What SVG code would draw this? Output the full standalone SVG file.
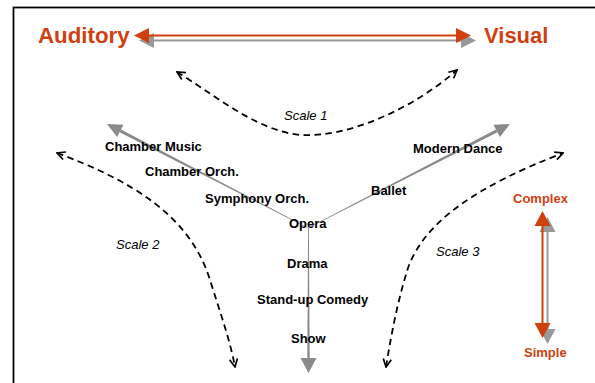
<svg xmlns="http://www.w3.org/2000/svg" width="595" height="383" viewBox="0 0 595 383">
<style>
.lbl{font-family:"Liberation Sans",Arial,sans-serif;font-weight:bold;font-size:13px;fill:#000}
.red{font-family:"Liberation Sans",Arial,sans-serif;font-weight:bold;fill:#D0400F}
.sc{font-family:"Liberation Sans",Arial,sans-serif;font-style:italic;font-size:13px;fill:#000}
.dash{fill:none;stroke:#000;stroke-width:1.8;stroke-dasharray:6.5 4.5;marker-start:url(#open);marker-end:url(#open)}
.gr{fill:#8a8a8a}
</style>
<defs>
<marker id="open" viewBox="0 0 10 10" refX="9" refY="5" markerWidth="10" markerHeight="10" markerUnits="userSpaceOnUse" orient="auto-start-reverse">
<path d="M1,1 L9,5 L1,9" fill="none" stroke="#000" stroke-width="1.7" stroke-dasharray="none"/>
</marker>
</defs>
<rect width="595" height="383" fill="#fff"/>
<rect x="13.5" y="7.5" width="600" height="400" fill="none" stroke="#000" stroke-width="1.8"/>

<g id="connectors">
  <path class="dash" d="M177,72 C215,95 255,130 300,135 C350,138 415,107 457,70"/>
  <path class="dash" d="M57,153 C130,180 190,215 210,280 C220,312 230,340 235,367"/>
  <path class="dash" d="M386,367 C392,330 398,300 408,268 C425,220 480,185 563,153"/>
  <g id="central-arrows">
    <polygon class="gr" points="308.14,227.73 121.0,129.6 119.6,132.2 307.86,228.27"/>
    <polygon class="gr" points="107,124 123.5,124.7 117.1,137.1"/>
    <polygon class="gr" points="308.14,228.27 497.4,132.2 496.0,129.6 307.86,227.73"/>
    <polygon class="gr" points="510,124 499.9,137.1 493.5,124.7"/>
    <polygon class="gr" points="308.1,228 308.9,228 309.7,359 307.3,359"/>
    <polygon class="gr" points="300.5,358 316.5,358 308.5,373"/>
  </g>
</g>

<g id="auditory-visual-arrow">
  <g transform="translate(5,5)" fill="#999">
    <rect x="148" y="34.5" width="309" height="2"/>
    <polygon points="134,35.5 149,28 149,43"/>
    <polygon points="471,35.5 456,28 456,43"/>
  </g>
  <g fill="#D0400F">
    <rect x="148" y="34.5" width="309" height="2"/>
    <polygon points="134,35.5 149,28 149,43"/>
    <polygon points="471,35.5 456,28 456,43"/>
  </g>
</g>
<g id="complex-simple-arrow">
  <g transform="translate(5,6)" fill="#999">
    <rect x="541.5" y="224" width="2" height="100"/>
    <polygon points="542.5,211 534.5,226 550.5,226"/>
    <polygon points="542.5,338 534.5,323 550.5,323"/>
  </g>
  <g fill="#D0400F">
    <rect x="541.5" y="224" width="2" height="100"/>
    <polygon points="542.5,211 534.5,226 550.5,226"/>
    <polygon points="542.5,338 534.5,323 550.5,323"/>
  </g>
</g>

<g id="auditory"><text class="red" x="38" y="43" font-size="22.3">Auditory</text></g>
<g id="visual"><text class="red" x="484" y="43" font-size="22">Visual</text></g>
<g id="complex"><text class="red" x="513" y="203" font-size="13">Complex</text></g>
<g id="simple"><text class="red" x="524" y="357" font-size="13">Simple</text></g>

<g id="scale1"><text class="sc" x="284" y="120">Scale 1</text></g>
<g id="scale2"><text class="sc" x="116" y="249">Scale 2</text></g>
<g id="scale3"><text class="sc" x="436" y="256">Scale 3</text></g>

<g id="chamber-music"><text class="lbl" x="105" y="151">Chamber Music</text></g>
<g id="chamber-orch"><text class="lbl" x="145" y="176">Chamber Orch.</text></g>
<g id="symphony-orch"><text class="lbl" x="205" y="203">Symphony Orch.</text></g>
<g id="opera"><text class="lbl" x="289" y="228">Opera</text></g>
<g id="drama"><text class="lbl" x="287" y="268">Drama</text></g>
<g id="standup"><text class="lbl" x="257" y="304">Stand-up Comedy</text></g>
<g id="show"><text class="lbl" x="291" y="343">Show</text></g>
<g id="ballet"><text class="lbl" x="371" y="195">Ballet</text></g>
<g id="modern-dance"><text class="lbl" x="413" y="153">Modern Dance</text></g>
</svg>
